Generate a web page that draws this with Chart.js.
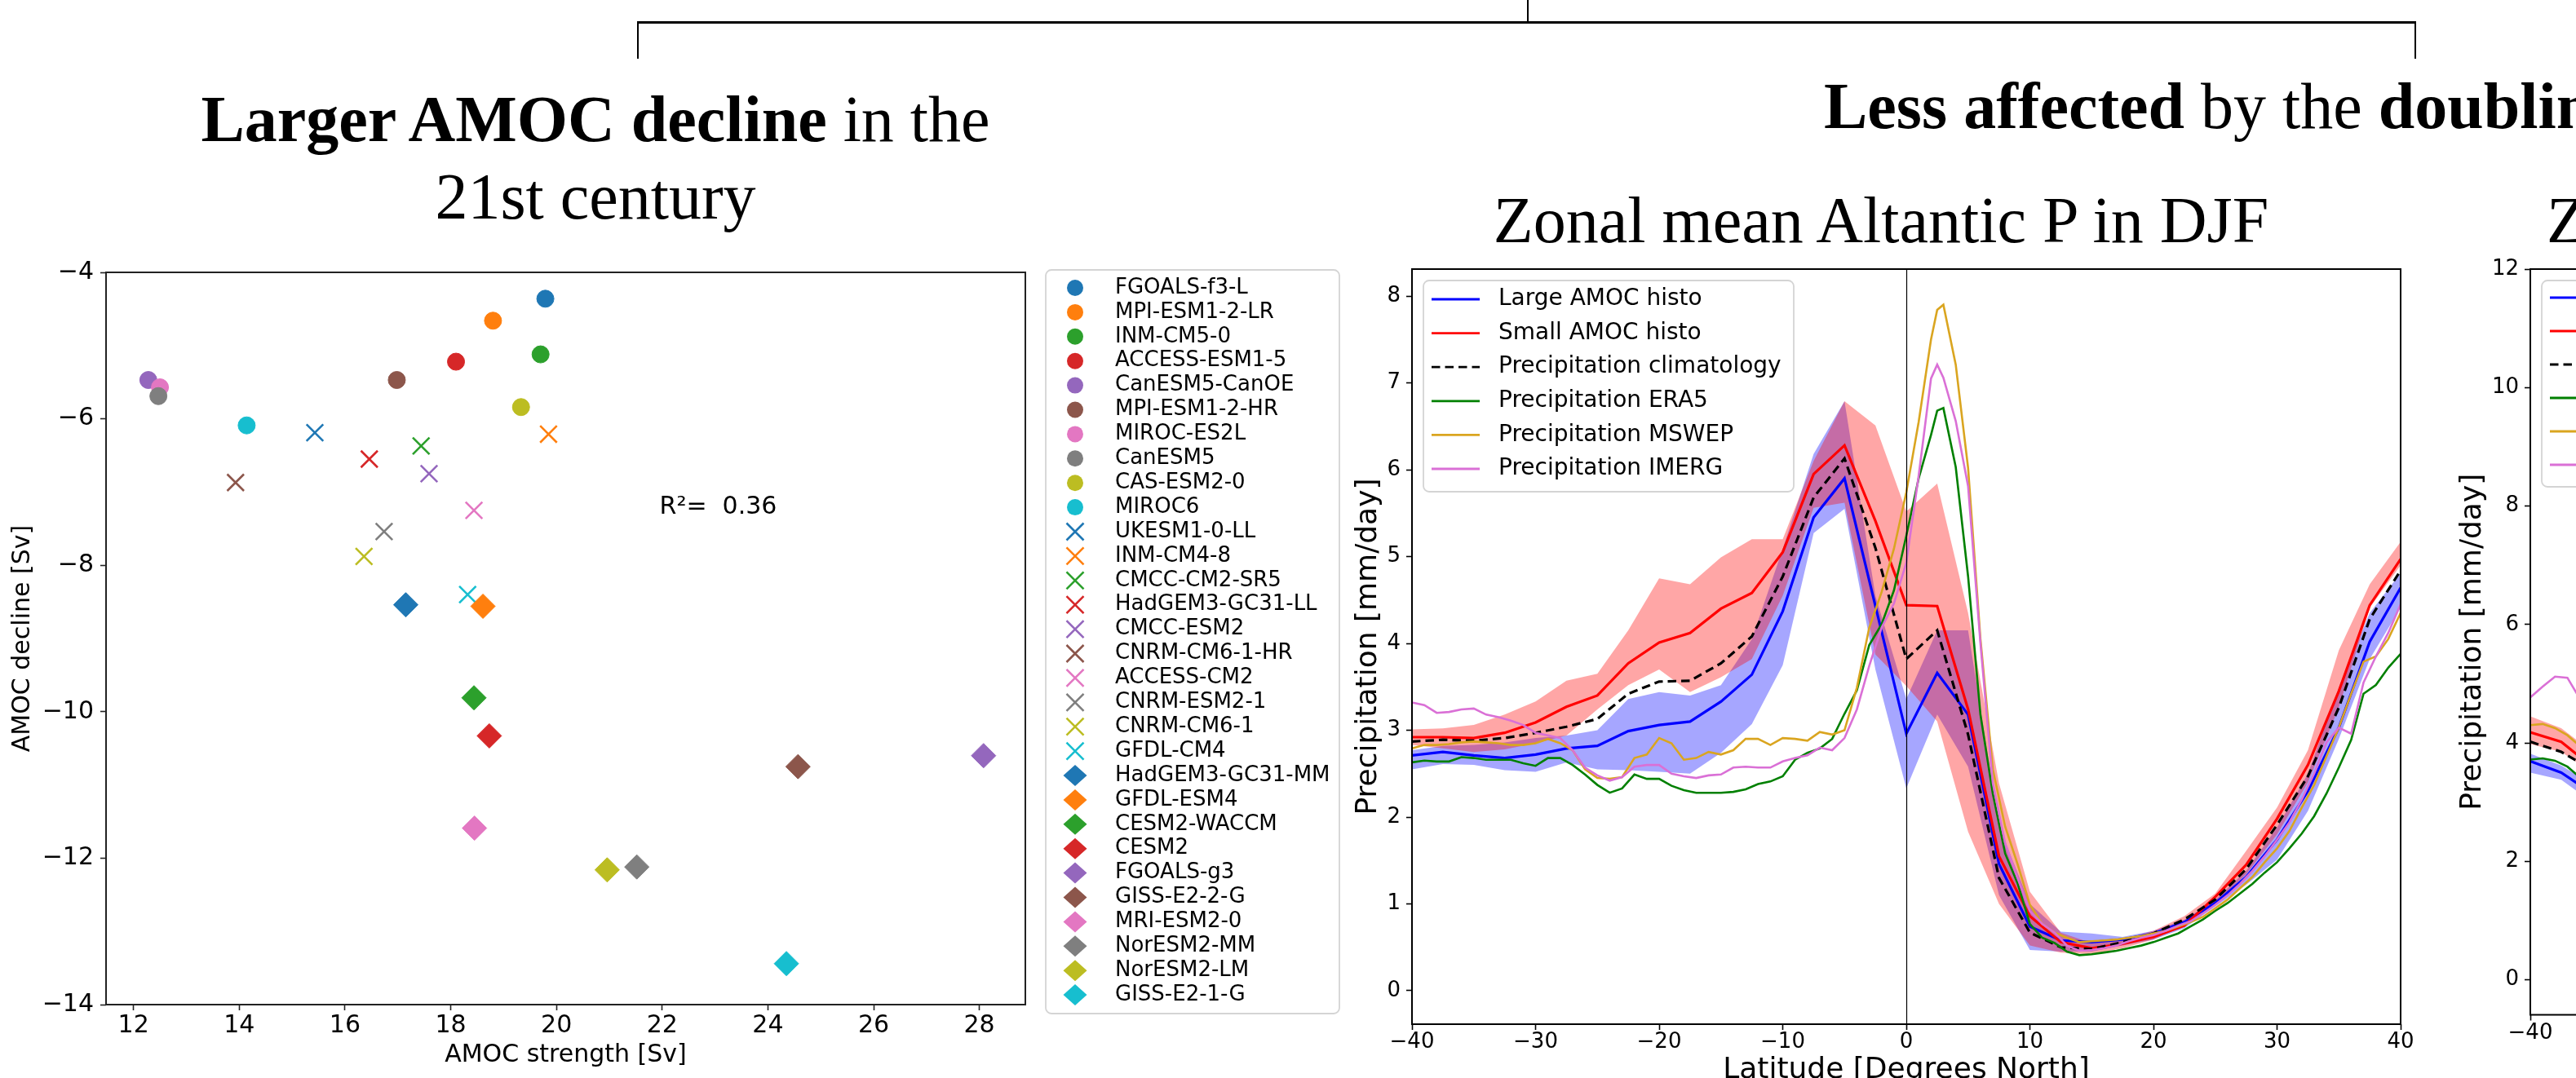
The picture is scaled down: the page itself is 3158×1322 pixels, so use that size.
<!DOCTYPE html>
<html>
<head>
<meta charset="utf-8">
<title>AMOC decline and zonal mean Atlantic precipitation</title>
<script src="https://cdn.jsdelivr.net/npm/chart.js@4.4.1/dist/chart.umd.min.js"></script>
<style>
  html, body { margin: 0; padding: 0; width: 3158px; height: 1322px; overflow: hidden; background: #fff; }
  body { position: relative; }
  canvas { position: absolute; }
  .bar { position: absolute; background: #000; }
  .head { position: absolute; font-family: "Liberation Serif", "Times New Roman", serif; font-size: 80px;
          line-height: 80px; white-space: nowrap; color: #000; }
</style>
</head>
<body>
<div class="bar" style="left:1872px;top:0;width:2px;height:27px"></div>
<div class="bar" style="left:781px;top:26px;width:2181px;height:3px"></div>
<div class="bar" style="left:781px;top:26px;width:2px;height:46px"></div>
<div class="bar" style="left:2960px;top:26px;width:2px;height:46px"></div>

<div class="head" style="left:0;width:1460px;top:106px;text-align:center"><b>Larger AMOC decline</b> in the</div>
<div class="head" style="left:0;width:1460px;top:201px;text-align:center">21st century</div>
<div class="head" style="left:2236px;top:90px"><b>Less affected</b> by the <b>doubling</b></div>
<div class="head" style="left:1656px;width:1300px;top:230px;text-align:center">Zonal mean Altantic P in DJF</div>
<div class="head" style="left:3122px;top:230px">Zonal mean Altantic P in JJA</div>

<canvas id="scatter" width="1646" height="1022" style="left:0;top:300px"></canvas>
<canvas id="djf" width="1330" height="1100" style="left:1640px;top:300px"></canvas>
<canvas id="jja" width="1420" height="1100" style="left:2990px;top:300px"></canvas>

<script>
// ---------- left panel: AMOC strength vs 21st century decline ----------
const models = ['FGOALS-f3-L', 'MPI-ESM1-2-LR', 'INM-CM5-0', 'ACCESS-ESM1-5', 'CanESM5-CanOE',
  'MPI-ESM1-2-HR', 'MIROC-ES2L', 'CanESM5', 'CAS-ESM2-0', 'MIROC6',
  'UKESM1-0-LL', 'INM-CM4-8', 'CMCC-CM2-SR5', 'HadGEM3-GC31-LL', 'CMCC-ESM2',
  'CNRM-CM6-1-HR', 'ACCESS-CM2', 'CNRM-ESM2-1', 'CNRM-CM6-1', 'GFDL-CM4',
  'HadGEM3-GC31-MM', 'GFDL-ESM4', 'CESM2-WACCM', 'CESM2', 'FGOALS-g3',
  'GISS-E2-2-G', 'MRI-ESM2-0', 'NorESM2-MM', 'NorESM2-LM', 'GISS-E2-1-G'];
const amocStrength = [19.79, 18.80, 19.70, 18.10, 12.28, 16.98, 12.50, 12.47, 19.33, 14.14,
  15.43, 19.85, 17.44, 16.46, 17.59, 13.93, 18.44, 16.74, 16.36, 18.32,
  17.15, 18.61, 18.44, 18.73, 28.08, 24.57, 18.45, 21.52, 20.96, 24.35];
const amocDecline = [-4.36, -4.66, -5.12, -5.22, -5.47, -5.47, -5.57, -5.69, -5.84, -6.09,
  -6.19, -6.21, -6.37, -6.55, -6.75, -6.87, -7.25, -7.54, -7.88, -8.40,
  -8.54, -8.56, -9.81, -10.33, -10.60, -10.75, -11.59, -12.12, -12.16, -13.44];
const rSquared = 0.36;
const strengthTicks = [12, 14, 16, 18, 20, 22, 24, 26, 28];
const declineTicks = [-14, -12, -10, -8, -6, -4];

// ---------- middle panel: zonal mean Atlantic precipitation, DJF ----------
const latModel = [-40, -37.5, -35, -32.5, -30, -27.5, -25, -22.5, -20, -17.5, -15, -12.5, -10, -7.5, -5, -2.5,
  0, 2.5, 5, 7.5, 10, 12.5, 15, 17.5, 20, 22.5, 25, 27.5, 30, 32.5, 35, 37.5, 40];
const largeAmoc = [2.71, 2.75, 2.71, 2.68, 2.72, 2.79, 2.82, 2.99, 3.06, 3.10, 3.33, 3.64, 4.37, 5.45, 5.90, 4.43,
  2.96, 3.66, 3.18, 1.46, 0.74, 0.58, 0.56, 0.59, 0.66, 0.79, 1.01, 1.31, 1.74, 2.30, 3.03, 4.02, 4.64];
const largeAmocHigh = [2.77, 2.82, 2.83, 2.86, 2.91, 2.94, 3.00, 3.36, 3.44, 3.40, 3.52, 4.05, 5.09, 6.18, 6.79, 4.55,
  3.36, 4.15, 4.15, 1.90, 1.00, 0.68, 0.66, 0.62, 0.69, 0.82, 1.05, 1.38, 1.88, 2.50, 3.49, 4.35, 4.81];
const largeAmocLow = [2.55, 2.61, 2.60, 2.54, 2.52, 2.63, 2.55, 2.54, 2.52, 2.50, 2.74, 3.07, 3.75, 5.27, 5.55, 3.70,
  2.33, 3.18, 2.58, 1.10, 0.47, 0.45, 0.45, 0.52, 0.59, 0.72, 0.97, 1.22, 1.51, 2.07, 2.90, 3.82, 4.41];
const smallAmoc = [2.92, 2.92, 2.91, 2.97, 3.09, 3.27, 3.40, 3.77, 4.01, 4.12, 4.40, 4.58, 5.05, 5.95, 6.28, 5.41,
  4.44, 4.43, 3.24, 1.55, 0.86, 0.56, 0.49, 0.54, 0.62, 0.75, 1.08, 1.45, 1.98, 2.60, 3.45, 4.44, 4.97];
const smallAmocHigh = [3.01, 3.02, 3.06, 3.18, 3.33, 3.57, 3.65, 4.15, 4.75, 4.68, 4.99, 5.20, 5.20, 6.10, 6.79, 6.51,
  5.52, 5.84, 4.35, 2.39, 1.14, 0.67, 0.55, 0.59, 0.69, 0.86, 1.12, 1.61, 2.11, 2.77, 3.92, 4.68, 5.17];
const smallAmocLow = [2.83, 2.79, 2.75, 2.78, 2.85, 2.94, 3.24, 3.52, 3.70, 3.44, 3.61, 3.82, 4.55, 5.56, 5.62, 3.87,
  3.51, 3.10, 1.83, 1.00, 0.52, 0.44, 0.42, 0.49, 0.59, 0.75, 1.01, 1.34, 1.80, 2.40, 3.26, 4.41, 4.90];
const climatology = [2.87, 2.89, 2.88, 2.91, 2.97, 3.04, 3.13, 3.42, 3.56, 3.57, 3.77, 4.08, 4.77, 5.68, 6.13, 5.10,
  3.82, 4.15, 2.95, 1.30, 0.67, 0.50, 0.48, 0.56, 0.66, 0.82, 1.05, 1.40, 1.91, 2.47, 3.26, 4.28, 4.84];

const latObs = [-40, -39, -38, -37, -36, -35, -34, -33, -32, -31, -30, -29, -28, -27, -26, -25, -24, -23, -22, -21,
  -20, -19, -18, -17, -16, -15, -14, -13, -12, -11, -10, -9, -8, -7, -6, -5, -4, -3, -2, -1,
  0, 1, 2, 2.5, 3, 4, 5, 6, 7, 8, 9, 10, 11, 12, 13, 14, 15, 16, 17, 18, 19, 20, 21, 22, 23,
  24, 25, 26, 27, 28, 29, 30, 31, 32, 33, 34, 35, 36, 37, 38, 39, 40];
const era5 = [2.63, 2.65, 2.64, 2.64, 2.69, 2.68, 2.66, 2.66, 2.66, 2.62,
  2.59, 2.68, 2.68, 2.60, 2.49, 2.37, 2.28, 2.33, 2.49, 2.44,
  2.44, 2.36, 2.31, 2.28, 2.28, 2.28, 2.29, 2.32, 2.38, 2.41,
  2.47, 2.66, 2.74, 2.79, 2.90, 3.19, 3.46, 3.98, 4.22, 4.61,
  5.24, 5.90, 6.40, 6.68, 6.71,
  6.03, 4.77, 3.18, 2.27, 1.58, 1.24, 0.77, 0.61, 0.55, 0.45,
  0.41, 0.42, 0.44, 0.46, 0.49, 0.52, 0.56, 0.61, 0.66, 0.74,
  0.82, 0.92, 1.01, 1.12, 1.23, 1.36, 1.48, 1.64, 1.81, 2.01,
  2.27, 2.57, 2.89, 3.42, 3.52, 3.72, 3.88];
const mswep = [2.79, 2.83, 2.83, 2.84, 2.86, 2.87, 2.86, 2.85, 2.83, 2.83,
  2.85, 2.90, 2.85, 2.77, 2.55, 2.45, 2.44, 2.46, 2.68, 2.72,
  2.91, 2.85, 2.66, 2.68, 2.75, 2.72, 2.77, 2.90, 2.90, 2.83,
  2.91, 2.90, 2.88, 2.98, 2.95, 3.00, 3.49, 4.18, 4.59, 5.09,
  5.74, 6.55, 7.50, 7.84, 7.90,
  7.21, 6.02, 4.05, 2.55, 1.89, 1.46, 0.99, 0.77, 0.67, 0.61,
  0.56, 0.57, 0.58, 0.59, 0.61, 0.63, 0.66, 0.69, 0.74, 0.79,
  0.85, 0.95, 1.05, 1.18, 1.31, 1.48, 1.64, 1.84, 2.11, 2.37,
  2.70, 3.03, 3.42, 3.79, 3.85, 4.05, 4.35];
const imerg = [3.32, 3.29, 3.20, 3.21, 3.24, 3.25, 3.18, 3.15, 3.11, 3.06,
  2.97, 2.94, 2.91, 2.77, 2.57, 2.48, 2.42, 2.46, 2.58, 2.60,
  2.60, 2.50, 2.47, 2.45, 2.48, 2.49, 2.57, 2.58, 2.57, 2.57,
  2.64, 2.68, 2.71, 2.80, 2.77, 2.91, 3.24, 3.74, 4.18, 4.46,
  4.93, 5.93, 7.05, 7.21, 7.06,
  6.56, 5.81, 4.00, 2.39, 1.70, 1.30, 0.92, 0.77, 0.67, 0.52,
  0.46, 0.47, 0.49, 0.52, 0.57, 0.61, 0.64, 0.69, 0.75, 0.80,
  0.89, 0.99, 1.10, 1.23, 1.38, 1.55, 1.74, 1.94, 2.20, 2.50,
  2.86, 3.03, 2.96, 3.55, 3.85, 4.12, 4.45];
const latTicks = [-40, -30, -20, -10, 0, 10, 20, 30, 40];
const djfTicks = [0, 1, 2, 3, 4, 5, 6, 7, 8];

// ---------- right panel (cut by the page edge): JJA ----------
const jjaLatModel = [-40, -37.5, -35];
const jjaLarge = [3.69, 3.50, 3.15];
const jjaLargeHigh = [3.82, 3.62, 3.30];
const jjaLargeLow = [3.50, 3.38, 3.00];
const jjaSmall = [4.18, 4.02, 3.60];
const jjaSmallHigh = [4.45, 4.25, 3.85];
const jjaSmallLow = [3.98, 3.85, 3.50];
const jjaClim = [4.02, 3.85, 3.55];
const jjaLatObs = [-40, -39, -38, -37, -36, -35];
const jjaEra5 = [3.72, 3.74, 3.70, 3.60, 3.42, 3.30];
const jjaMswep = [4.30, 4.32, 4.25, 4.13, 3.95, 3.80];
const jjaImerg = [4.77, 4.95, 5.12, 5.10, 4.75, 4.60];
const jjaTicks = [0, 2, 4, 6, 8, 10, 12];

// ---------- shared helpers ----------
const FONT = 'DejaVu Sans';
Chart.defaults.font.family = FONT;
const tab10 = ['#1f77b4', '#ff7f0e', '#2ca02c', '#d62728', '#9467bd',
  '#8c564b', '#e377c2', '#7f7f7f', '#bcbd22', '#17becf'];
const shapes = ['circle', 'crossRot', 'rectRot'];
const minus = v => (v < 0 ? '\u2212' + Math.abs(v) : String(v));
const pts = (xs, ys) => xs.map((x, i) => ({ x: x, y: ys[i] }));
const setTicks = values => s => { s.ticks = values.map(v => ({ value: v })); };

function drawFrame(ctx, x, y, w, h) {
  ctx.save();
  ctx.beginPath();
  ctx.roundRect(x, y, w, h, 7);
  ctx.fillStyle = 'rgba(255,255,255,0.8)';
  ctx.fill();
  ctx.strokeStyle = '#d4d4d4';
  ctx.lineWidth = 1.8;
  ctx.stroke();
  ctx.restore();
}

const spines = {
  id: 'spines',
  afterDatasetsDraw(chart, args, opts) {
    const { ctx, chartArea: a } = chart;
    ctx.save();
    ctx.strokeStyle = opts.color;
    ctx.lineWidth = 2;
    ctx.strokeRect(a.left, a.top, a.right - a.left, a.bottom - a.top);
    ctx.restore();
  }
};

function axisBase(fontSize, pad, tickColor) {
  return {
    type: 'linear',
    border: { display: false },
    grid: { drawOnChartArea: false, tickLength: 7, tickWidth: 1.6, tickColor: tickColor },
    ticks: { font: { size: fontSize }, color: '#000', padding: pad, autoSkip: false, maxRotation: 0, callback: minus }
  };
}

// ---------- scatter ----------
function drawMarker(ctx, shape, x, y, color) {
  ctx.save();
  ctx.fillStyle = color;
  ctx.strokeStyle = color;
  ctx.beginPath();
  if (shape === 'circle') {
    ctx.arc(x, y, 10, 0, Math.PI * 2);
    ctx.fill();
  } else if (shape === 'crossRot') {
    const d = 10.5;
    ctx.lineWidth = 2.6;
    ctx.moveTo(x - d, y - d); ctx.lineTo(x + d, y + d);
    ctx.moveTo(x + d, y - d); ctx.lineTo(x - d, y + d);
    ctx.stroke();
  } else {
    ctx.moveTo(x - 14.5, y); ctx.lineTo(x, y - 13); ctx.lineTo(x + 14.5, y); ctx.lineTo(x, y + 13);
    ctx.closePath();
    ctx.fill();
  }
  ctx.restore();
}

const scatterLegend = {
  id: 'scatterLegend',
  afterDraw(chart) {
    const ctx = chart.ctx;
    drawFrame(ctx, 1282, 31, 360, 912);
    chart.data.datasets.forEach((ds, i) => {
      const y = 53 + i * 29.9;
      drawMarker(ctx, ds.pointStyle, 1318, y, ds.pointBackgroundColor);
      ctx.save();
      ctx.fillStyle = '#000';
      ctx.font = '26px "' + FONT + '"';
      ctx.textBaseline = 'middle';
      ctx.fillText(ds.label, 1367, y);
      ctx.restore();
    });
  }
};

const rLabel = {
  id: 'rLabel',
  afterDatasetsDraw(chart) {
    const { ctx, scales } = chart;
    ctx.save();
    ctx.font = '30px "' + FONT + '"';
    ctx.fillStyle = '#000';
    ctx.fillText('R\u00b2=  ' + rSquared.toFixed(2), scales.x.getPixelForValue(21.95), scales.y.getPixelForValue(-7.30));
    ctx.restore();
  }
};

const radiusOf = { circle: 10.5, crossRot: 14.5, rectRot: 15 };
const borderOf = { circle: 1, crossRot: 2.6, rectRot: 1 };

new Chart(document.getElementById('scatter'), {
  type: 'scatter',
  data: {
    datasets: models.map((name, i) => {
      const shape = shapes[Math.floor(i / 10)];
      return {
        label: name,
        data: [{ x: amocStrength[i], y: amocDecline[i] }],
        pointStyle: shape,
        pointRadius: radiusOf[shape],
        pointBorderWidth: borderOf[shape],
        pointBackgroundColor: tab10[i % 10],
        pointBorderColor: tab10[i % 10],
        order: models.length - i
      };
    })
  },
  options: {
    responsive: false,
    animation: false,
    devicePixelRatio: 1,
    layout: { padding: { left: 0, top: 34, right: 389, bottom: 0 }, autoPadding: false },
    plugins: { legend: { display: false }, tooltip: { enabled: false }, spines: { color: '#222' } },
    scales: {
      x: Object.assign(axisBase(30, 1.5, '#222'), {
        min: 11.48, max: 28.87,
        afterBuildTicks: setTicks(strengthTicks),
        afterFit: s => { s.height = 90; },
        title: { display: true, text: 'AMOC strength [Sv]', color: '#000', font: { size: 30 }, padding: { top: 0, bottom: 10 } }
      }),
      y: Object.assign(axisBase(30, 8, '#222'), {
        min: -14, max: -4,
        afterBuildTicks: setTicks(declineTicks),
        afterFit: s => { s.width = 130; },
        title: { display: true, text: 'AMOC decline [Sv]', color: '#000', font: { size: 30 }, padding: { top: 10, bottom: 0 } }
      })
    }
  },
  plugins: [spines, rLabel, scatterLegend]
});

// ---------- precipitation panels ----------
function band(xs, hi, lo, color, order) {
  return [
    { data: pts(xs, hi), fill: '+1', backgroundColor: color, borderColor: 'transparent', borderWidth: 0, pointRadius: 0, order: order },
    { data: pts(xs, lo), fill: false, borderColor: 'transparent', borderWidth: 0, pointRadius: 0, order: order - 1 }
  ];
}
function series(label, xs, ys, color, width, dash, order) {
  return { label: label, data: pts(xs, ys), borderColor: color, borderWidth: width, borderDash: dash,
    pointRadius: 0, tension: 0, fill: false, order: order };
}

const zeroLine = {
  id: 'zeroLine',
  afterDatasetsDraw(chart) {
    const { ctx, chartArea: a, scales } = chart;
    const x = Math.round(scales.x.getPixelForValue(0)) + 0.5;
    ctx.save();
    ctx.strokeStyle = '#000';
    ctx.lineWidth = 1.2;
    ctx.beginPath();
    ctx.moveTo(x, a.top);
    ctx.lineTo(x, a.bottom);
    ctx.stroke();
    ctx.restore();
  }
};

function lineLegend(frame, firstY, step, x0, x1, textX) {
  return {
    id: 'lineLegend',
    afterDatasetsDraw(chart) {
      const ctx = chart.ctx;
      drawFrame(ctx, frame[0], frame[1], frame[2], frame[3]);
      chart.data.datasets.filter(d => d.label).forEach((d, i) => {
        const y = firstY + i * step;
        ctx.save();
        ctx.strokeStyle = d.borderColor;
        ctx.lineWidth = 2.8;
        ctx.setLineDash(d.borderDash);
        ctx.beginPath();
        ctx.moveTo(x0, y);
        ctx.lineTo(x1, y);
        ctx.stroke();
        ctx.setLineDash([]);
        ctx.fillStyle = '#000';
        ctx.font = '28px "' + FONT + '"';
        ctx.textBaseline = 'middle';
        ctx.fillText(d.label, textX, y);
        ctx.restore();
      });
    }
  };
}

function precipChart(id, sets, yMin, yMax, yTicks, yWidth, xHeight, padRight, yTitlePad, xTitlePad, legend) {
  return new Chart(document.getElementById(id), {
    type: 'line',
    data: { datasets: sets },
    options: {
      responsive: false,
      animation: false,
      devicePixelRatio: 1,
      layout: { padding: { left: 0, top: 30, right: padRight, bottom: 0 }, autoPadding: false },
      plugins: { legend: { display: false }, tooltip: { enabled: false }, spines: { color: '#000' } },
      scales: {
        x: Object.assign(axisBase(26, 0, '#000'), {
          min: -40, max: 40,
          afterBuildTicks: setTicks(latTicks),
          afterFit: s => { s.height = xHeight; },
          title: { display: true, text: 'Latitude [Degrees North]', color: '#000', font: { size: 36 }, padding: { top: 0, bottom: xTitlePad } }
        }),
        y: Object.assign(axisBase(26, 7, '#000'), {
          min: yMin, max: yMax,
          afterBuildTicks: setTicks(yTicks),
          afterFit: s => { s.width = yWidth; },
          title: { display: true, text: 'Precipitation [mm/day]', color: '#000', font: { size: 36 }, padding: { top: yTitlePad, bottom: 0 } }
        })
      }
    },
    plugins: [spines, zeroLine, legend]
  });
}

const BLUE_BAND = 'rgba(0,0,255,0.35)';
const RED_BAND = 'rgba(255,0,0,0.35)';
const DASH = [10.5, 6];

precipChart('djf', [].concat(
  band(latModel, largeAmocHigh, largeAmocLow, BLUE_BAND, 20),
  band(latModel, smallAmocHigh, smallAmocLow, RED_BAND, 18),
  [
    series('Large AMOC histo', latModel, largeAmoc, '#0000ff', 3.2, [], 6),
    series('Small AMOC histo', latModel, smallAmoc, '#ff0000', 3.2, [], 5),
    series('Precipitation climatology', latModel, climatology, '#000000', 3.2, DASH, 4),
    series('Precipitation ERA5', latObs, era5, '#008000', 2.6, [], 3),
    series('Precipitation MSWEP', latObs, mswep, '#daa520', 2.6, [], 2),
    series('Precipitation IMERG', latObs, imerg, '#da70d6', 2.6, [], 1)
  ]),
  -0.385, 8.31, djfTicks, 91, 144, 27, 16.4, 66,
  lineLegend([105, 44, 454, 259], 67, 41.6, 115, 174, 197));

precipChart('jja', [].concat(
  band(jjaLatModel, jjaLargeHigh, jjaLargeLow, BLUE_BAND, 20),
  band(jjaLatModel, jjaSmallHigh, jjaSmallLow, RED_BAND, 18),
  [
    series('Large AMOC histo', jjaLatModel, jjaLarge, '#0000ff', 3.2, [], 6),
    series('Small AMOC histo', jjaLatModel, jjaSmall, '#ff0000', 3.2, [], 5),
    series('Precipitation climatology', jjaLatModel, jjaClim, '#000000', 3.2, DASH, 4),
    series('Precipitation ERA5', jjaLatObs, jjaEra5, '#008000', 2.6, [], 3),
    series('Precipitation MSWEP', jjaLatObs, jjaMswep, '#daa520', 2.6, [], 2),
    series('Precipitation IMERG', jjaLatObs, jjaImerg, '#da70d6', 2.6, [], 1)
  ]),
  -0.59, 12, jjaTicks, 112, 155.5, 96, 20.4, 77,
  lineLegend([126, 44, 454, 253], 65, 41, 136, 195, 217));
</script>
</body>
</html>
